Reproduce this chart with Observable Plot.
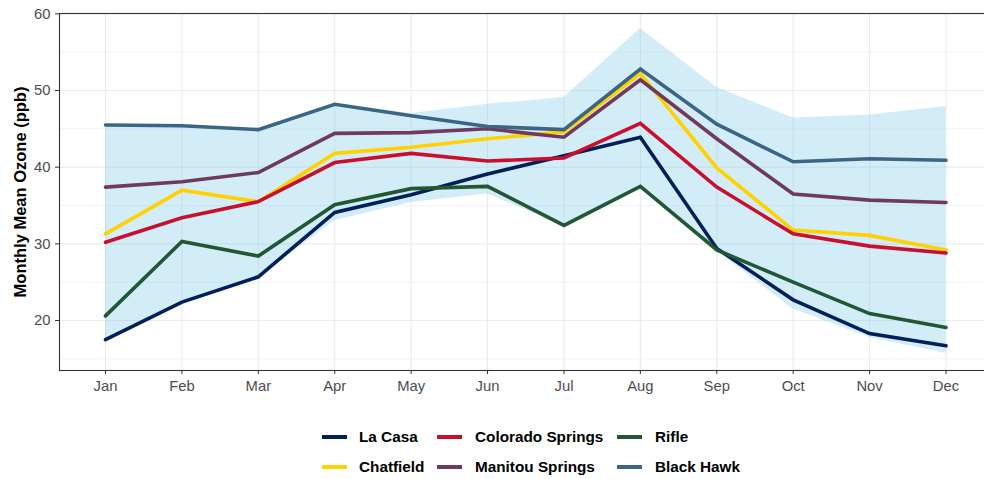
<!DOCTYPE html>
<html><head><meta charset="utf-8">
<script src="https://cdn.jsdelivr.net/npm/d3@7"></script>
<script src="https://cdn.jsdelivr.net/npm/@observablehq/plot@0.6"></script>
<style>
body{margin:0;background:#fff;font-family:"Liberation Sans",Arial,sans-serif;}
#legend{position:relative;width:984px;height:79px;}
.key{position:absolute;width:25px;height:4px;}
.lab{position:absolute;font-weight:bold;font-size:15.3px;color:#000;line-height:1;transform:translateY(-50%);white-space:nowrap;}
</style></head><body>
<div id="chart"></div><div id="legend"></div>
<script>
const months = ["Jan","Feb","Mar","Apr","May","Jun","Jul","Aug","Sep","Oct","Nov","Dec"];
const laCasa          = [17.5, 22.4, 25.7, 34.1, 36.4, 39.1, 41.5, 43.9, 29.4, 22.7, 18.3, 16.7];
const chatfield       = [31.3, 37.0, 35.5, 41.8, 42.6, 43.7, 44.6, 52.2, 39.9, 31.8, 31.1, 29.2];
const coloradoSprings = [30.2, 33.4, 35.5, 40.6, 41.8, 40.8, 41.2, 45.7, 37.4, 31.3, 29.7, 28.8];
const manitouSprings  = [37.4, 38.1, 39.3, 44.4, 44.5, 45.0, 43.9, 51.4, 43.7, 36.5, 35.7, 35.4];
const rifle           = [20.6, 30.3, 28.4, 35.1, 37.2, 37.5, 32.4, 37.5, 29.2, 25.0, 20.9, 19.1];
const blackHawk       = [45.5, 45.4, 44.9, 48.2, 46.7, 45.3, 44.9, 52.8, 45.6, 40.7, 41.1, 40.9];
const ribbonLower     = [17.4, 22.3, 25.6, 33.0, 35.4, 36.5, 32.3, 37.4, 29.1, 21.5, 17.8, 15.7];
const ribbonUpper     = [45.6, 45.5, 45.0, 48.3, 47.0, 48.2, 49.1, 58.1, 50.4, 46.4, 46.8, 47.9];
const sites = ["La Casa","Chatfield","Colorado Springs","Manitou Springs","Rifle","Black Hawk"];
const siteValues = [laCasa, chatfield, coloradoSprings, manitouSprings, rifle, blackHawk];
const siteColors = ["#00205B","#FFD100","#C8102E","#6F3A5E","#215732","#3A6584"];
const yTicks = [20, 30, 40, 50, 60];
const yMinor = [15, 25, 35, 45, 55];
const yTitle = "Monthly Mean Ozone (ppb)";

const lineData = sites.flatMap((s, i) => months.map((m, j) => ({site: s, month: m, value: siteValues[i][j]})));
const ribbonData = months.map((m, j) => ({month: m, lo: ribbonLower[j], hi: ribbonUpper[j]}));

const chart = Plot.plot({
  width: 984, height: 400,
  marginLeft: 59, marginRight: -2, marginTop: 13, marginBottom: 30,
  style: {fontFamily: '"Liberation Sans", Arial, sans-serif', background: "white"},
  x: {type: "point", domain: months, range: [105, 945.5], padding: 0, round: false},
  y: {domain: [13.48, 60.04]},
  color: {domain: sites, range: siteColors},
  marks: [
    Plot.ruleY(yMinor, {stroke: "#ebebeb", strokeWidth: 0.6}),
    Plot.ruleY(yTicks, {stroke: "#ebebeb", strokeWidth: 1.1}),
    Plot.ruleX(months, {stroke: "#ebebeb", strokeWidth: 1.1}),
    Plot.areaY(ribbonData, {x: "month", y1: "lo", y2: "hi", fill: "#87ceeb", fillOpacity: 0.37}),
    Plot.line(lineData, {x: "month", y: "value", z: "site", stroke: "site", strokeWidth: 3.6, strokeLinejoin: "miter", strokeMiterlimit: 2}),
    Plot.frame({stroke: "#333333", strokeWidth: 1.1}),
    Plot.axisY(yTicks, {tickSize: 4, tickPadding: 5, stroke: "#333333", color: "#4d4d4d", fontSize: 14.8, label: null}),
    Plot.axisX(months, {tickSize: 4, tickPadding: 6, stroke: "#333333", color: "#4d4d4d", fontSize: 14.8, label: null}),
    Plot.text([yTitle], {frameAnchor: "left", text: d => d, rotate: -90, dx: -39, textAnchor: "middle", lineAnchor: "middle", fontSize: 16.5, fontWeight: "bold", fill: "black"})
  ]
});
document.getElementById("chart").appendChild(chart);

// legend (ggplot-style, filled by column, 2 rows)
const legend = document.getElementById("legend");
const colKeyX = [322, 437, 617], colTextX = [359, 475, 655], rowY = [37, 67];
sites.forEach((s, i) => {
  const c = Math.floor(i / 2), r = i % 2;
  const k = document.createElement("div");
  k.className = "key";
  k.style.left = colKeyX[c] + "px"; k.style.top = (rowY[r] - 2) + "px";
  k.style.background = siteColors[i];
  legend.appendChild(k);
  const t = document.createElement("div");
  t.className = "lab";
  t.style.left = colTextX[c] + "px"; t.style.top = rowY[r] + "px";
  t.textContent = s;
  legend.appendChild(t);
});
</script>
</body></html>
